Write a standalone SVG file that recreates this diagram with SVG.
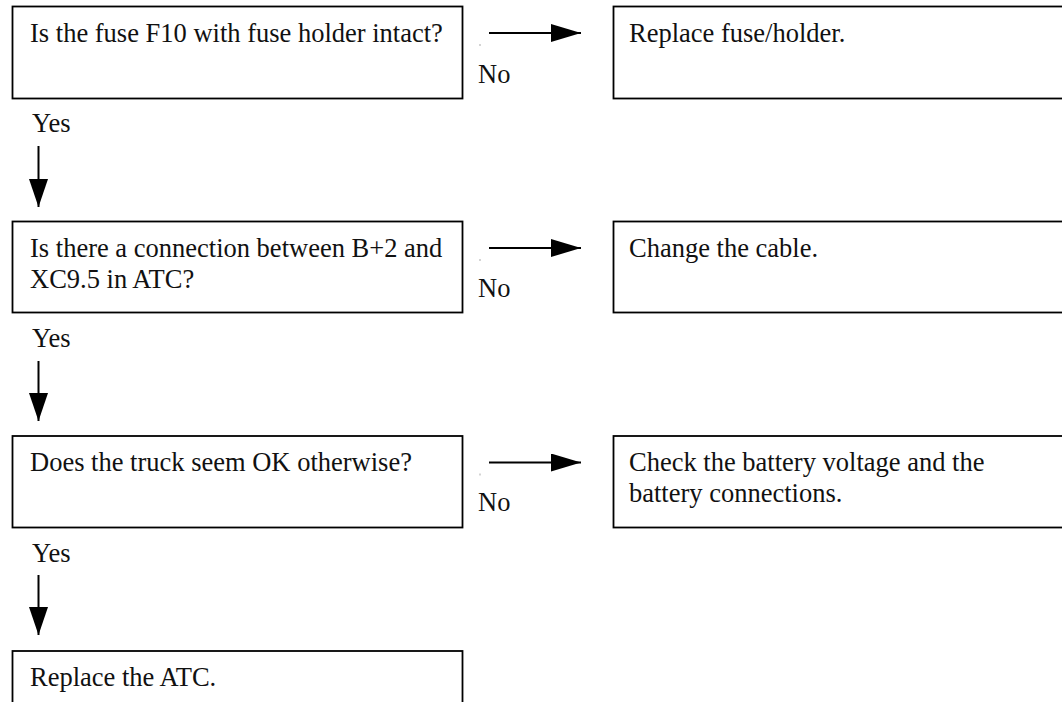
<svg xmlns="http://www.w3.org/2000/svg" width="1062" height="702" viewBox="0 0 1062 702">
  <defs>
    <marker id="headR" viewBox="0 0 30 18" refX="30" refY="9" markerWidth="30" markerHeight="18" markerUnits="userSpaceOnUse" orient="auto">
      <path d="M0,0 L30,9 L0,18 Z" fill="#000"/>
    </marker>
    <marker id="headD" viewBox="0 0 28 19" refX="28" refY="9.5" markerWidth="28" markerHeight="19" markerUnits="userSpaceOnUse" orient="auto">
      <path d="M0,0 L28,9.5 L0,19 Z" fill="#000"/>
    </marker>
  </defs>
  <style>
    .box { fill: #fff; stroke: #000; stroke-width: 1.8; }
    .txt { font-family: "Liberation Serif", "Times New Roman", serif; font-size: 26.5px; fill: #111; }
    .flow { stroke: #000; stroke-width: 2; fill: none; }
    .tick { fill: #aaa; }
  </style>
  <rect width="1062" height="702" fill="#fff"/>

  <!-- question 1 -->
  <g id="q-fuse">
    <rect class="box" x="12.5" y="6.5" width="450" height="92"/>
    <text class="txt" x="30" y="41.5">Is the fuse F10 with fuse holder intact?</text>
  </g>
  <g id="a-replace-fuse">
    <rect class="box" x="613.5" y="6.5" width="460" height="92"/>
    <text class="txt" x="629" y="41.5">Replace fuse/holder.</text>
  </g>

  <!-- question 2 -->
  <g id="q-cable">
    <rect class="box" x="12.5" y="221.5" width="450" height="91"/>
    <text class="txt" x="30" y="256.5">Is there a connection between B+2 and</text>
    <text class="txt" x="30" y="288">XC9.5 in ATC?</text>
  </g>
  <g id="a-change-cable">
    <rect class="box" x="613.5" y="221.5" width="460" height="91"/>
    <text class="txt" x="629" y="256.5">Change the cable.</text>
  </g>

  <!-- question 3 -->
  <g id="q-truck">
    <rect class="box" x="12.5" y="436" width="450" height="91.5"/>
    <text class="txt" x="30" y="470.5">Does the truck seem OK otherwise?</text>
  </g>
  <g id="a-battery">
    <rect class="box" x="613.5" y="436" width="460" height="91.5"/>
    <text class="txt" x="629" y="470.5">Check the battery voltage and the</text>
    <text class="txt" x="629" y="502">battery connections.</text>
  </g>

  <!-- final step -->
  <g id="a-replace-atc">
    <rect class="box" x="12.5" y="651" width="450" height="80"/>
    <text class="txt" x="30" y="686">Replace the ATC.</text>
  </g>

  <!-- connectors and branch labels -->
  <g id="connectors">
    <line class="flow" x1="489" y1="33" x2="581" y2="33" marker-end="url(#headR)"/>
    <line class="flow" x1="489" y1="248" x2="581" y2="248" marker-end="url(#headR)"/>
    <line class="flow" x1="489" y1="462.5" x2="581" y2="462.5" marker-end="url(#headR)"/>

    <line class="flow" x1="38.5" y1="146" x2="38.5" y2="207" marker-end="url(#headD)"/>
    <line class="flow" x1="38.5" y1="361" x2="38.5" y2="421" marker-end="url(#headD)"/>
    <line class="flow" x1="38.5" y1="575" x2="38.5" y2="635" marker-end="url(#headD)"/>

    <rect class="tick" x="479.5" y="44" width="1" height="2"/>
    <rect class="tick" x="479.5" y="259" width="1" height="2"/>
    <rect class="tick" x="479.5" y="473.5" width="1" height="2"/>

    <text class="txt" x="478" y="82.5">No</text>
    <text class="txt" x="478" y="296.5">No</text>
    <text class="txt" x="478" y="511">No</text>

    <text class="txt" x="32" y="132">Yes</text>
    <text class="txt" x="32" y="347">Yes</text>
    <text class="txt" x="32" y="561.5">Yes</text>
  </g>
</svg>
